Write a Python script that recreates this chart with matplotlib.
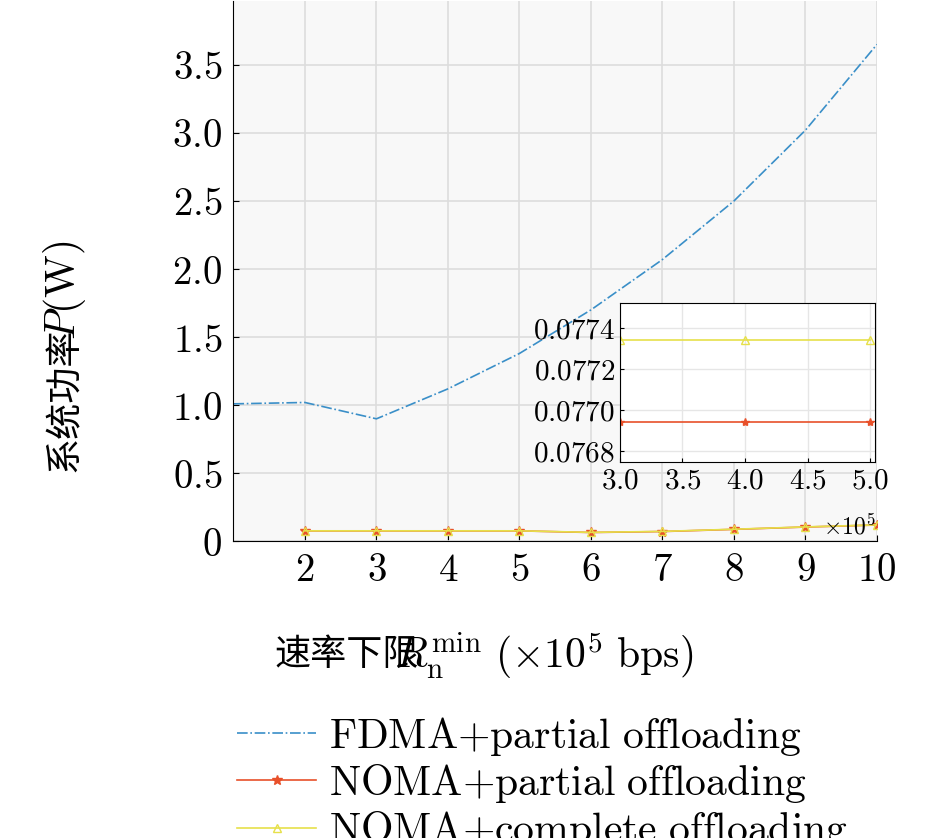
import numpy as np
import matplotlib
matplotlib.use('Agg')
import matplotlib.pyplot as plt
from matplotlib.ticker import FuncFormatter

plt.rcParams['font.family'] = ['DejaVu Serif', 'Noto Sans CJK SC']
plt.rcParams['mathtext.fontset'] = 'cm'

# data (x in 1e5 bps)
x_fdma = [1, 2, 3, 4, 5, 6, 7, 8, 9, 10]
p_fdma = [1.01, 1.02, 0.90, 1.12, 1.38, 1.70, 2.07, 2.50, 3.02, 3.65]
x_noma = [2, 3, 4, 5, 6, 7, 8, 9, 10]
p_noma_partial = [0.0769, 0.0769, 0.0769, 0.0769, 0.065, 0.072, 0.088, 0.105, 0.12]
p_noma_complete = [0.0773, 0.0773, 0.0773, 0.0773, 0.066, 0.073, 0.089, 0.106, 0.121]
x_zoom = [3, 4, 5]
zoom_partial = [0.07694, 0.07694, 0.07694]
zoom_complete = [0.07734, 0.07734, 0.07734]

c_fdma = '#3a8fc8'
c_part = '#e8502a'
c_comp = '#e6e04a'
cjk = 'Noto Sans CJK SC'

fig = plt.figure(figsize=(9.45, 8.38), dpi=100)
ax = fig.add_axes([0.247, 0.354, 0.681, 0.645])
ax.set_facecolor('#f8f8f8')
ax.plot(x_fdma, p_fdma, color=c_fdma, ls='-.', lw=1.2, label=r'$\mathrm{FDMA{+}partial\ offloading}$')
ax.plot(x_noma, p_noma_partial, color=c_part, marker='*', ms=7, lw=1.2, label=r'$\mathrm{NOMA{+}partial\ offloading}$')
ax.plot(x_noma, p_noma_complete, color=c_comp, marker='^', ms=6, mfc='none', lw=1.2, label=r'$\mathrm{NOMA{+}complete\ offloading}$')
ax.set_xlim(1, 10)
ax.set_ylim(0, 3.97)
ax.set_xticks(range(2, 11))
ax.set_yticks([0, 0.5, 1, 1.5, 2, 2.5, 3, 3.5])
ax.xaxis.set_major_formatter(FuncFormatter(lambda v, p: r'$%d$' % v))
ax.yaxis.set_major_formatter(FuncFormatter(lambda v, p: r'$0$' if v == 0 else r'$%.1f$' % v))
ax.tick_params(labelsize=28, direction='in', length=4, pad=8)
ax.grid(True, color='#dddddd', lw=1.2)
for s in ['top', 'right']:
    ax.spines[s].set_visible(False)

# axis labels built from pieces (CJK text + math)
fig.text(65 / 945, 1 - 400 / 838, '系统功率', family=cjk, fontsize=26, rotation=90, ha='center', va='center')
fig.text(65 / 945, 1 - 290 / 838, r'$P\mathrm{(W)}$', fontsize=30, rotation=90, ha='center', va='center')
fig.text(347 / 945, 1 - 655 / 838, '速率下限', family=cjk, fontsize=26, ha='center', va='center')
fig.text(395 / 945, 1 - 655 / 838, r'$R_{\mathrm{n}}^{\mathrm{min}}\ (\times10^5\ \mathrm{bps})$', fontsize=30, ha='left', va='center')

ax.legend(loc='upper left', bbox_to_anchor=(-0.02, -0.29), frameon=False, fontsize=30,
          handlelength=1.9, handletextpad=0.3, labelspacing=0.1, borderaxespad=0)

# inset
ins = fig.add_axes([0.656, 0.449, 0.270, 0.190])
ins.set_facecolor('white')
ins.plot(x_zoom, zoom_partial, color=c_part, marker='*', ms=6, lw=1.2)
ins.plot(x_zoom, zoom_complete, color=c_comp, marker='^', ms=6, mfc='none', lw=1.2)
ins.set_xlim(3, 5.04)
ins.set_ylim(0.076746, 0.077522)
ins.set_xticks([3, 3.5, 4, 4.5, 5])
ins.set_yticks([0.0768, 0.0770, 0.0772, 0.0774])
ins.xaxis.set_major_formatter(FuncFormatter(lambda v, p: r'$%.1f$' % v))
ins.yaxis.set_major_formatter(FuncFormatter(lambda v, p: r'$%.4f$' % v))
ins.tick_params(labelsize=21, direction='in', length=3)
ins.grid(True, color='#e6e6e6', lw=1)
ins.text(1.0, -0.33, r'$\times10^5$', transform=ins.transAxes, ha='right', va='top', fontsize=17)

fig.savefig('out.png', dpi=100)
